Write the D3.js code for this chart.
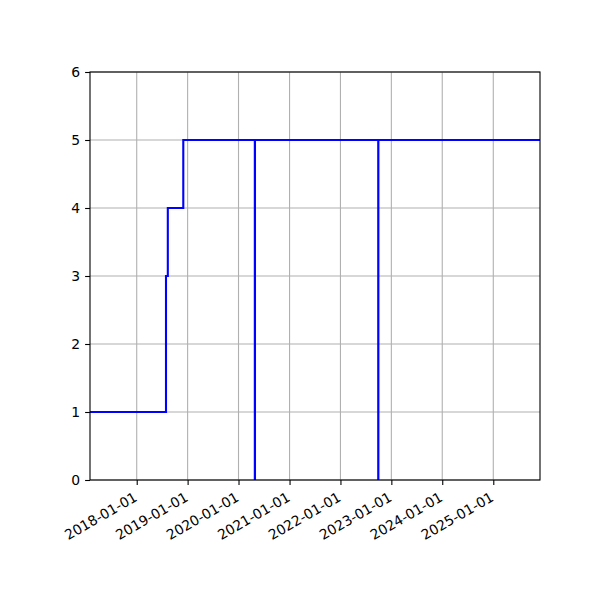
<!DOCTYPE html>
<html>
<head>
<meta charset="utf-8">
<script src="https://cdn.jsdelivr.net/npm/d3@7"></script>
<style>
  body { margin: 0; background: #fff; }
  svg { font-family: "DejaVu Sans", sans-serif; }
</style>
</head>
<body>
<div id="chart"></div>
<script>
// step points: value holds from this date until the next one
const stepDates = [
  '2017-01-31', '2018-07-30', '2018-08-12', '2018-12-01',
  '2020-04-27', '2020-04-28', '2022-09-29', '2022-09-30', '2025-12-02'
];
const stepValues = [1, 3, 4, 5, 0, 5, 0, 5, 5];
const xDomain = ['2017-01-31', '2025-12-02'];
const xTicks = ['2018-01-01', '2019-01-01', '2020-01-01', '2021-01-01',
  '2022-01-01', '2023-01-01', '2024-01-01', '2025-01-01'];
const yTicks = [0, 1, 2, 3, 4, 5, 6];

const parse = d3.timeParse('%Y-%m-%d');
const data = stepDates.map((d, i) => ({ date: parse(d), value: stepValues[i] }));

const margin = { top: 72, right: 60, bottom: 120, left: 90 };
const width = 600 - margin.left - margin.right;
const height = 600 - margin.top - margin.bottom;

const svg = d3.select('#chart')
  .append('svg')
  .attr('width', 600)
  .attr('height', 600);
const g = svg.append('g').attr('transform', `translate(${margin.left}, ${margin.top})`);

const x = d3.scaleTime().domain(xDomain.map(parse)).range([0, width]);
const y = d3.scaleLinear().domain([0, 6]).range([height, 0]);

// grid
g.append('g')
  .selectAll('line')
  .data(xTicks.map(parse))
  .join('line')
  .attr('x1', (d) => x(d)).attr('x2', (d) => x(d))
  .attr('y1', 0).attr('y2', height)
  .attr('stroke', '#b0b0b0').attr('stroke-width', 1.1);
g.append('g')
  .selectAll('line')
  .data(yTicks)
  .join('line')
  .attr('x1', 0).attr('x2', width)
  .attr('y1', (d) => y(d)).attr('y2', (d) => y(d))
  .attr('stroke', '#b0b0b0').attr('stroke-width', 1.1);

// step line
const line = d3.line()
  .x((d) => x(d.date))
  .y((d) => y(d.value))
  .curve(d3.curveStepAfter);

const clip = g.append('defs').append('clipPath').attr('id', 'plot-clip');
clip.append('rect').attr('x', 0).attr('y', -2).attr('width', width).attr('height', height + 2);

g.append('path')
  .datum(data)
  .attr('clip-path', 'url(#plot-clip)')
  .attr('fill', 'none')
  .attr('stroke', '#0000ff')
  .attr('stroke-width', 2.1)
  .attr('d', line);

// axes
const tickSize = 4.9;
const xAxis = g.append('g')
  .attr('transform', `translate(0, ${height})`)
  .call(d3.axisBottom(x).tickValues(xTicks.map(parse)).tickSize(tickSize).tickFormat(d3.timeFormat('%Y-%m-%d')));
xAxis.select('.domain').remove();
xAxis.selectAll('.tick line').attr('stroke', '#000').attr('stroke-width', 1.1);
xAxis.selectAll('.tick text')
  .attr('font-size', 13.9)
  .attr('font-family', '"DejaVu Sans", sans-serif')
  .attr('fill', '#000')
  .attr('text-anchor', 'end')
  .attr('dy', null)
  .attr('y', 0)
  .attr('transform', 'translate(1, 20) rotate(-30)');

const yAxis = g.append('g')
  .call(d3.axisLeft(y).tickValues(yTicks).tickSize(tickSize).tickPadding(4.9).tickFormat(d3.format('d')));
yAxis.select('.domain').remove();
yAxis.selectAll('.tick line').attr('stroke', '#000').attr('stroke-width', 1.1);
yAxis.selectAll('.tick text')
  .attr('font-size', 13.9)
  .attr('font-family', '"DejaVu Sans", sans-serif')
  .attr('fill', '#000');

// frame
g.append('rect')
  .attr('x', 0).attr('y', 0)
  .attr('width', width).attr('height', height)
  .attr('fill', 'none')
  .attr('stroke', '#000')
  .attr('stroke-width', 1.1);
</script>
</body>
</html>
